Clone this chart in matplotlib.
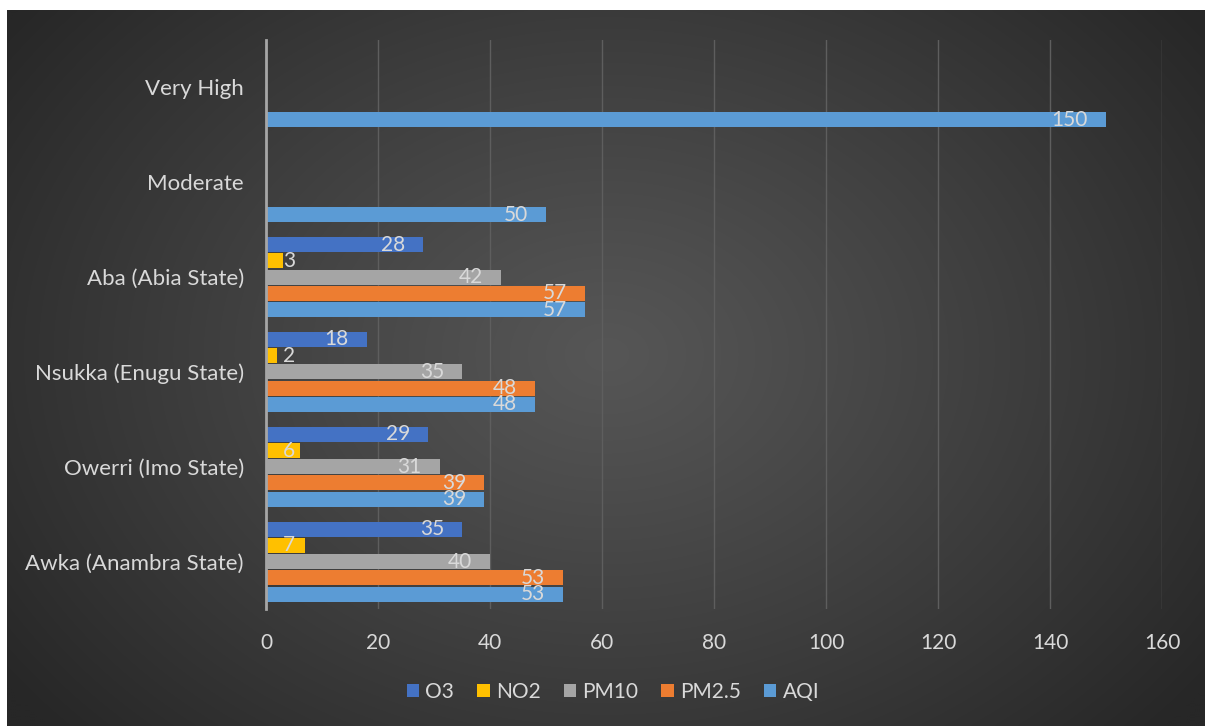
import numpy as np
import matplotlib
matplotlib.use("Agg")
import matplotlib.pyplot as plt
from matplotlib.patches import Patch

plt.rcParams['font.family'] = ['Lato', 'DejaVu Sans']

categories = ["Awka (Anambra State)", "Owerri (Imo State)", "Nsukka (Enugu State)",
              "Aba (Abia State)", "Moderate", "Very High"]
series_names = ["O3", "NO2", "PM10", "PM2.5", "AQI"]
o3 = [35, 29, 18, 28, np.nan, np.nan]
no2 = [7, 6, 2, 3, np.nan, np.nan]
pm10 = [40, 31, 35, 42, np.nan, np.nan]
pm25 = [53, 39, 48, 57, np.nan, np.nan]
aqi = [53, 39, 48, 57, 50, 150]
series_values = [o3, no2, pm10, pm25, aqi]
colors = ["#4472C4", "#FFC000", "#A5A5A5", "#ED7D31", "#5B9BD5"]
xticks = [0, 20, 40, 60, 80, 100, 120, 140, 160]

W, H = 1205, 726
fig = plt.figure(figsize=(W / 100, H / 100), dpi=100, facecolor="white")

# background panel with radial gradient
bg = fig.add_axes([7 / W, 0, 1 - 7 / W, 1 - 10 / H], zorder=0)
ny, nx = 360, 600
yy, xx = np.mgrid[0:ny, 0:nx]
cx, cy = nx * 0.5, ny * 0.48
d = np.sqrt(((xx - cx) / (nx * 0.62)) ** 2 + ((yy - cy) / (ny * 0.78)) ** 2)
d = np.clip(d, 0, 1)
c_in, c_out = 0x56, 0x27
val = (c_in + (c_out - c_in) * d ** 1.1) / 255.0
img = np.dstack([val, val, val])
bg.imshow(img, aspect="auto", extent=[0, 1, 0, 1], interpolation="bilinear")
bg.set_axis_off()

left, right = 266 / W, 1162 / W
top, bottom = 1 - 40 / H, 1 - 609 / H
ax = fig.add_axes([left, bottom, right - left, top - bottom], zorder=1)
ax.patch.set_alpha(0)

n = len(series_names)
step = 0.171
bh = 0.158
y = np.arange(len(categories))
txtcol = "#D9D9D9"
fs = 15
for i, (name, vals, col) in enumerate(zip(series_names, series_values, colors)):
    off = (n - 1) / 2 * step - i * step
    vals = np.array(vals, dtype=float)
    ax.barh(y + off, vals, height=bh, color=col, zorder=3)
    for yi, v in zip(y + off, vals):
        if np.isnan(v):
            continue
        if v < 10:
            ax.annotate(f"{int(v)}", xy=(0, yi), xytext=(17 * 0.72, 0),
                        textcoords="offset points", ha="left", va="center",
                        fontsize=fs, color=txtcol, zorder=4)
        else:
            ax.annotate(f"{int(v)}", xy=(v, yi), xytext=(-18 * 0.72, 0),
                        textcoords="offset points", ha="right", va="center",
                        fontsize=fs, color=txtcol, zorder=4)

ax.set_xlim(0, 160)
ax.set_ylim(-0.5, len(categories) - 0.5)
ax.set_xticks(xticks)
ax.set_xticklabels([str(t) for t in xticks])
ax.set_yticks(y)
ax.set_yticklabels(categories)
ax.tick_params(axis="both", length=0, colors=txtcol, labelsize=fs)
ax.tick_params(axis="y", labelsize=16, pad=16)
ax.tick_params(axis="x", pad=17)
ax.grid(axis="x", color="#5E5E5E", linewidth=1, zorder=0)
for s in ["top", "right", "bottom"]:
    ax.spines[s].set_visible(False)
ax.spines["left"].set_color("#A6A6A6")
ax.spines["left"].set_linewidth(2)
ax.spines["left"].set_zorder(5)

handles = [Patch(facecolor=c, edgecolor="none") for c in colors]
fig.legend(handles, series_names, loc="center", bbox_to_anchor=(613 / W, 1 - 692 / H),
           ncol=5, frameon=False, fontsize=fs, labelcolor=txtcol,
           handlelength=0.6, handleheight=0.6, handletextpad=0.3, columnspacing=1.1)

fig.savefig("out.png", dpi=100, facecolor="white")
